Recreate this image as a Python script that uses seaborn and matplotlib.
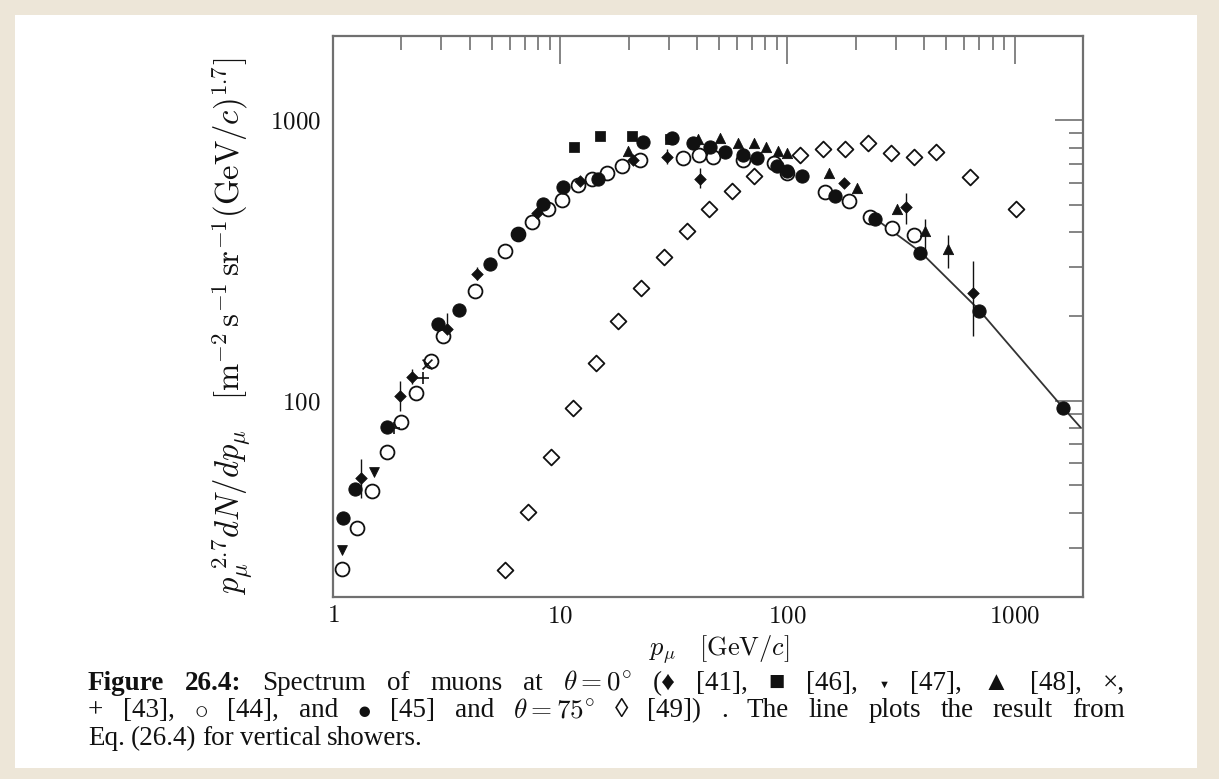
import numpy as np
import seaborn as sns
import matplotlib.pyplot as plt
from matplotlib.patches import Rectangle
from matplotlib.ticker import LogLocator, NullFormatter, FixedFormatter, FixedLocator

# theta = 75 deg, open diamonds [49]
d75_x = [5.7, 7.2, 9.1, 11.4, 14.4, 18.0, 22.7, 28.7, 36.2, 45.3, 57.3, 71.6,
         114, 143, 180, 227, 287, 359, 453, 634, 1010]
d75_y = [24.9, 40.2, 63, 94.4, 137, 192, 253, 327, 405, 485, 562, 636,
         756, 788, 788, 828, 763, 738, 769, 626, 485]

# open circles [44]
oc_x = [1.095, 1.28, 1.49, 1.73, 2.0, 2.32, 2.7, 3.05, 4.22, 5.72, 6.53, 7.53,
        8.86, 10.2, 12.0, 13.8, 16.1, 18.8, 22.5, 34.8, 41, 47, 64, 87, 100,
        147, 186, 232, 290, 362]
oc_y = [25.1, 35.2, 47.7, 65.8, 84, 107, 139, 171, 247, 343, 395, 436,
        485, 522, 591, 620, 652, 690, 720, 735, 750, 738, 720, 708, 647,
        557, 518, 451, 415, 392]

# filled circles [45]
fc_x = [1.11, 1.25, 1.73, 2.9, 3.59, 4.92, 6.53, 8.4, 10.3, 14.6, 23.2, 31.1,
        38.3, 45.6, 53.3, 64, 73.5, 90, 100, 116, 162, 244, 385, 694, 1626]
fc_y = [38.2, 48.5, 80.8, 188, 211, 309, 395, 505, 581, 620, 841, 869,
        828, 801, 769, 750, 732, 690, 663, 636, 540, 447, 338, 210, 94.4]

# small filled diamonds [41] with error bars
fd_x = [1.33, 1.97, 2.23, 3.18, 4.31, 7.9, 12.2, 21, 29.5, 41.4, 177, 334, 653]
fd_y = [53, 104, 122, 181, 284, 466, 610, 720, 738, 620, 596, 490, 243]
fd_lo = [45, 92, 115, 170, 270, 450, 595, 700, 700, 572, 580, 429, 171]
fd_hi = [62, 118, 130, 205, 300, 480, 625, 740, 790, 674, 612, 553, 316]

# filled squares [46]
sq_x = [11.5, 15.0, 20.8, 30.5]
sq_y = [807, 877, 877, 862]

# filled triangles [48]
tr_x = [19.9, 40.5, 50.7, 60.9, 71, 80.8, 91, 100, 152, 203, 305, 405, 507]
tr_y = [781, 862, 869, 834, 828, 807, 781, 763, 652, 576, 485, 405, 349]
tr_lo = [781, 862, 869, 834, 828, 807, 781, 763, 652, 576, 485, 338, 298]
tr_hi = [781, 862, 869, 834, 828, 807, 781, 763, 652, 576, 485, 447, 392]

# inverted triangles [47]
it_x = [1.1, 1.52]
it_y = [29.3, 56]

# plus [43] and cross [42]
pl_x = [1.85, 2.49]
pl_y = [80, 121]
cr_x = [2.6]
cr_y = [135]

# Eq. (26.4) line
ln_x = [230, 385, 694, 1626, 1950]
ln_y = [462, 340, 212, 95, 80.5]

sns.set_theme(style="white")
plt.rcParams['font.family'] = ['Liberation Serif', 'DejaVu Sans']
plt.rcParams['mathtext.fontset'] = 'cm'

W, H = 1219, 779
fig = plt.figure(figsize=(W / 100, H / 100), dpi=100)
fig.patch.set_facecolor('#ede6d8')
fig.patches.append(Rectangle((15 / W, 1 - 768 / H), 1182 / W, 753 / H,
                             transform=fig.transFigure, facecolor='white',
                             edgecolor='none', zorder=-5))

ax = fig.add_axes([333 / W, 1 - 597 / H, 750 / W, 561 / H])
ax.set_zorder(2)
ax.set_xscale('log')
ax.set_yscale('log')

black = '#111111'
sns.lineplot(x=ln_x, y=ln_y, ax=ax, color='#333333', lw=1.3, zorder=2)

ax.errorbar(fd_x, fd_y, yerr=[np.array(fd_y) - np.array(fd_lo), np.array(fd_hi) - np.array(fd_y)],
            fmt='none', ecolor=black, elinewidth=1, capsize=0, zorder=3)
ax.errorbar(tr_x, tr_y, yerr=[np.array(tr_y) - np.array(tr_lo), np.array(tr_hi) - np.array(tr_y)],
            fmt='none', ecolor=black, elinewidth=1, capsize=0, zorder=3)

sns.scatterplot(x=d75_x, y=d75_y, ax=ax, marker='D', s=65, facecolor='white',
                edgecolor=black, linewidth=1.3, zorder=4)
sns.scatterplot(x=oc_x, y=oc_y, ax=ax, marker='o', s=100, facecolor='white',
                edgecolor=black, linewidth=1.3, zorder=4)
sns.scatterplot(x=fc_x, y=fc_y, ax=ax, marker='o', s=90, color=black,
                edgecolor=black, zorder=5)
sns.scatterplot(x=fd_x, y=fd_y, ax=ax, marker='D', s=35, color=black,
                edgecolor=black, zorder=5)
sns.scatterplot(x=sq_x, y=sq_y, ax=ax, marker='s', s=45, color=black,
                edgecolor=black, zorder=5)
sns.scatterplot(x=tr_x, y=tr_y, ax=ax, marker='^', s=55, color=black,
                edgecolor=black, zorder=5)
sns.scatterplot(x=it_x, y=it_y, ax=ax, marker='v', s=50, color=black,
                edgecolor=black, zorder=5)
sns.scatterplot(x=pl_x, y=pl_y, ax=ax, marker='+', s=80, color=black,
                linewidth=1.2, zorder=5)
sns.scatterplot(x=cr_x, y=cr_y, ax=ax, marker='x', s=50, color=black,
                linewidth=1.2, zorder=5)

ax.set_xlim(1, 2000)
ax.set_ylim(20, 2000)

ax.xaxis.set_major_locator(FixedLocator([1, 10, 100, 1000]))
ax.xaxis.set_major_formatter(FixedFormatter([r'$\mathrm{1}$', r'$\mathrm{10}$',
                                             r'$\mathrm{100}$', r'$\mathrm{1000}$']))
ax.yaxis.set_major_locator(FixedLocator([100, 1000]))
ax.yaxis.set_major_formatter(FixedFormatter([r'$\mathrm{100}$', r'$\mathrm{1000}$']))
for axis in (ax.xaxis, ax.yaxis):
    axis.set_minor_locator(LogLocator(base=10, subs=np.arange(2, 10), numticks=20))
    axis.set_minor_formatter(NullFormatter())

spine_c = '#707070'
ax.tick_params(which='both', direction='in', top=True, right=True,
               color=spine_c, width=1.2, labelsize=18, labelcolor='#111111')
ax.tick_params(which='major', length=20, pad=9)
ax.tick_params(axis='x', which='major', pad=6)
ax.tick_params(which='minor', length=10)
for sp in ax.spines.values():
    sp.set_color(spine_c)
    sp.set_linewidth(1.6)
ax.set_facecolor('white')

ax.set_xlabel(r'$p_{\mu}\ \ \ [\mathrm{GeV}/c]$', fontsize=19, color='#111111', labelpad=2)
ax.xaxis.set_label_coords(0.515, -0.065)
ax.set_ylabel(r'$p_{\mu}^{\ 2.7} dN/dp_{\mu}\ \ \ [\mathrm{m}^{-2}\,\mathrm{s}^{-1}\,'
              r'\mathrm{sr}^{-1}(\mathrm{GeV}/c)^{1.7}]$',
              fontsize=23.5, color='#111111')
ax.yaxis.set_label_coords(-0.102, 0.482)

# caption, justified between x0 and x1 like the LaTeX original
renderer = fig.canvas.get_renderer()
cap_size = 19.5


def caption_line(tokens, y_px, x0=88, x1=1125, justify=True):
    texts = []
    for tok, extra in tokens:
        kw = dict(fontsize=cap_size, color='#111111', va='baseline', ha='left')
        kw.update(extra)
        texts.append(fig.text(0, 1 - y_px / H, tok, **kw))
    widths = [t.get_window_extent(renderer).width for t in texts]
    if justify:
        gap = (x1 - x0 - sum(widths)) / (len(texts) - 1)
    else:
        gap = 6
    x = x0
    for t, w in zip(texts, widths):
        t.set_x(x / W)
        x += w + gap


B = dict(fontweight='bold')
N = {}
line1 = [('Figure', B), ('26.4:', B), ('Spectrum', N), ('of', N), ('muons', N),
         ('at', N), (r'$\theta = 0^{\circ}$', N), ('(♦', N), ('[41],', N), ('■', N), ('[46],', N),
         ('▼', dict(fontsize=8, va='bottom')), ('[47],', N), ('▲', N), ('[48],', N), ('×,', N)]
line2 = [('+', N), ('[43],', N), (r'$\circ$', N), ('[44],', N), ('and', N), (r'$\bullet$', N),
         ('[45]', N), ('and', N), (r'$\theta = 75^{\circ}$', N), ('◊', N), ('[49])', N), ('.', N),
         ('The', N), ('line', N), ('plots', N), ('the', N), ('result', N), ('from', N)]
line3 = [('Eq.', N), ('(26.4)', N), ('for', N), ('vertical', N), ('showers.', N)]

caption_line(line1, 690)
caption_line(line2, 717)
caption_line(line3, 745, justify=False)

fig.savefig('out.png', dpi=100, facecolor=fig.get_facecolor())
